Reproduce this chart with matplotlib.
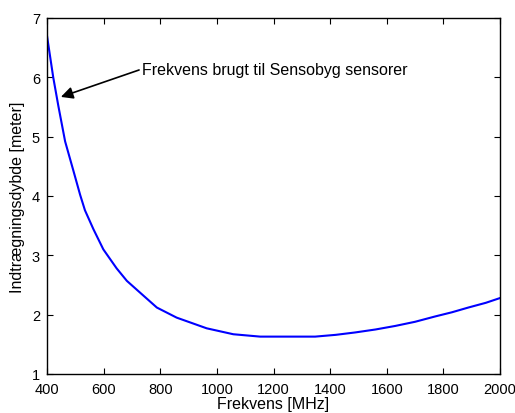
import matplotlib
matplotlib.use("Agg")
import matplotlib.pyplot as plt

plt.rcParams['font.family'] = ['Liberation Sans', 'DejaVu Sans']

# - DATA -
freq = [400, 422, 440, 464, 493, 517, 534, 564, 599, 646, 682, 729, 788, 858,
        964, 1058, 1153, 1294, 1347, 1420, 1488, 1560, 1630, 1700, 1771, 1830,
        1888, 1950, 2000]
depth = [6.70, 6.00, 5.52, 4.92, 4.43, 4.02, 3.76, 3.44, 3.10, 2.78, 2.57,
         2.37, 2.12, 1.95, 1.77, 1.67, 1.63, 1.63, 1.63, 1.66, 1.70, 1.75,
         1.81, 1.88, 1.97, 2.04, 2.12, 2.20, 2.28]
x_ticks = [400, 600, 800, 1000, 1200, 1400, 1600, 1800, 2000]
y_ticks = [1, 2, 3, 4, 5, 6, 7]
note = "Frekvens brugt til Sensobyg sensorer"
note_xy = (449, 5.67)
note_text_xy = (735, 6.14)

fig = plt.figure(figsize=(5.15, 4.14), dpi=100)
ax = fig.add_axes([47/515, 1-375/414, (500-47)/515, (375-19)/414])

ax.plot(freq, depth, color=(0, 0, 1), lw=1.5)

ax.set_xlim(400, 2000)
ax.set_ylim(1, 7)
ax.set_xticks(x_ticks)
ax.set_yticks(y_ticks)
ax.tick_params(direction='in', top=True, right=True, labelsize=10.5, length=4)
ax.tick_params(axis='x', pad=6)
ax.tick_params(axis='y', pad=5)
for s in ax.spines.values():
    s.set_linewidth(1.0)

ax.set_xlabel("Frekvens [MHz]", fontsize=11.5, labelpad=0)
ax.set_ylabel("Indtrægningsdybde [meter]", fontsize=11.5, labelpad=5)

ax.annotate(note, xy=note_xy, xytext=note_text_xy, fontsize=11.5,
            va='center', ha='left',
            arrowprops=dict(arrowstyle='-|>', color='black', lw=1.2,
                            mutation_scale=18, shrinkA=0, shrinkB=0,
                            relpos=(0, 0.5)))

fig.savefig("out.png", dpi=100)
